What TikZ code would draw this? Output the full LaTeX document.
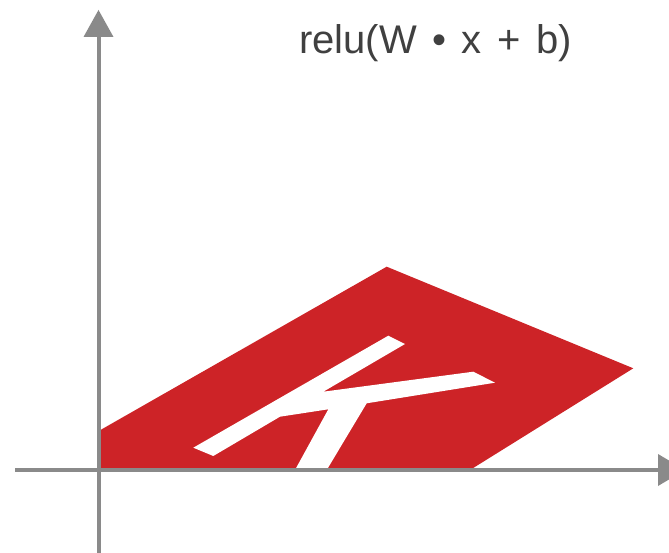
\documentclass[tikz,border=0pt]{standalone}
\usepackage{fontspec}
\setmainfont{Liberation Sans}
\definecolor{regionred}{RGB}{205,35,39}
\definecolor{axisgray}{RGB}{138,138,138}
\definecolor{labelgray}{RGB}{64,64,64}
\tikzset{
  axisline/.style={draw=axisgray, line width=4pt},
  axishead/.style={fill=axisgray},
  region/.style={fill=regionred},
  kmark/.style={fill=white},
  formula/.style={text=labelgray, font=\fontsize{40}{44}\selectfont, inner sep=0pt, anchor=base west}
}
\begin{document}
\begin{tikzpicture}[x=1pt,y=-1pt]
\useasboundingbox (0,0) rectangle (669,553);
\clip (0,0) rectangle (669,553);
% red region
\path[region] (98.7,431) -- (386.7,266.7) -- (633.3,368.3) -- (470,470) -- (98.7,470) -- cycle;
% white K
\path[kmark] (193.3,447.7) -- (388.3,335.7) -- (405,344) -- (323.3,391.7)
  -- (473.3,371.7) -- (495,382.7) -- (366.7,403.3) -- (326.7,470)
  -- (295,470) -- (328.3,409.3) -- (280,416.7) -- (213.3,456) -- cycle;
% axes
\draw[axisline] (98.7,560) -- (98.7,35);
\path[axishead] (98.5,10) -- (113.5,37) -- (83.5,37) -- cycle;
\draw[axisline] (15,470) -- (660,470);
\path[axishead] (685,470) -- (658,454) -- (658,486) -- cycle;
% formula
\node[formula] (f) at (299,53.3) {\spaceskip=15.5pt relu(W • x + b)};
\end{tikzpicture}
\end{document}
